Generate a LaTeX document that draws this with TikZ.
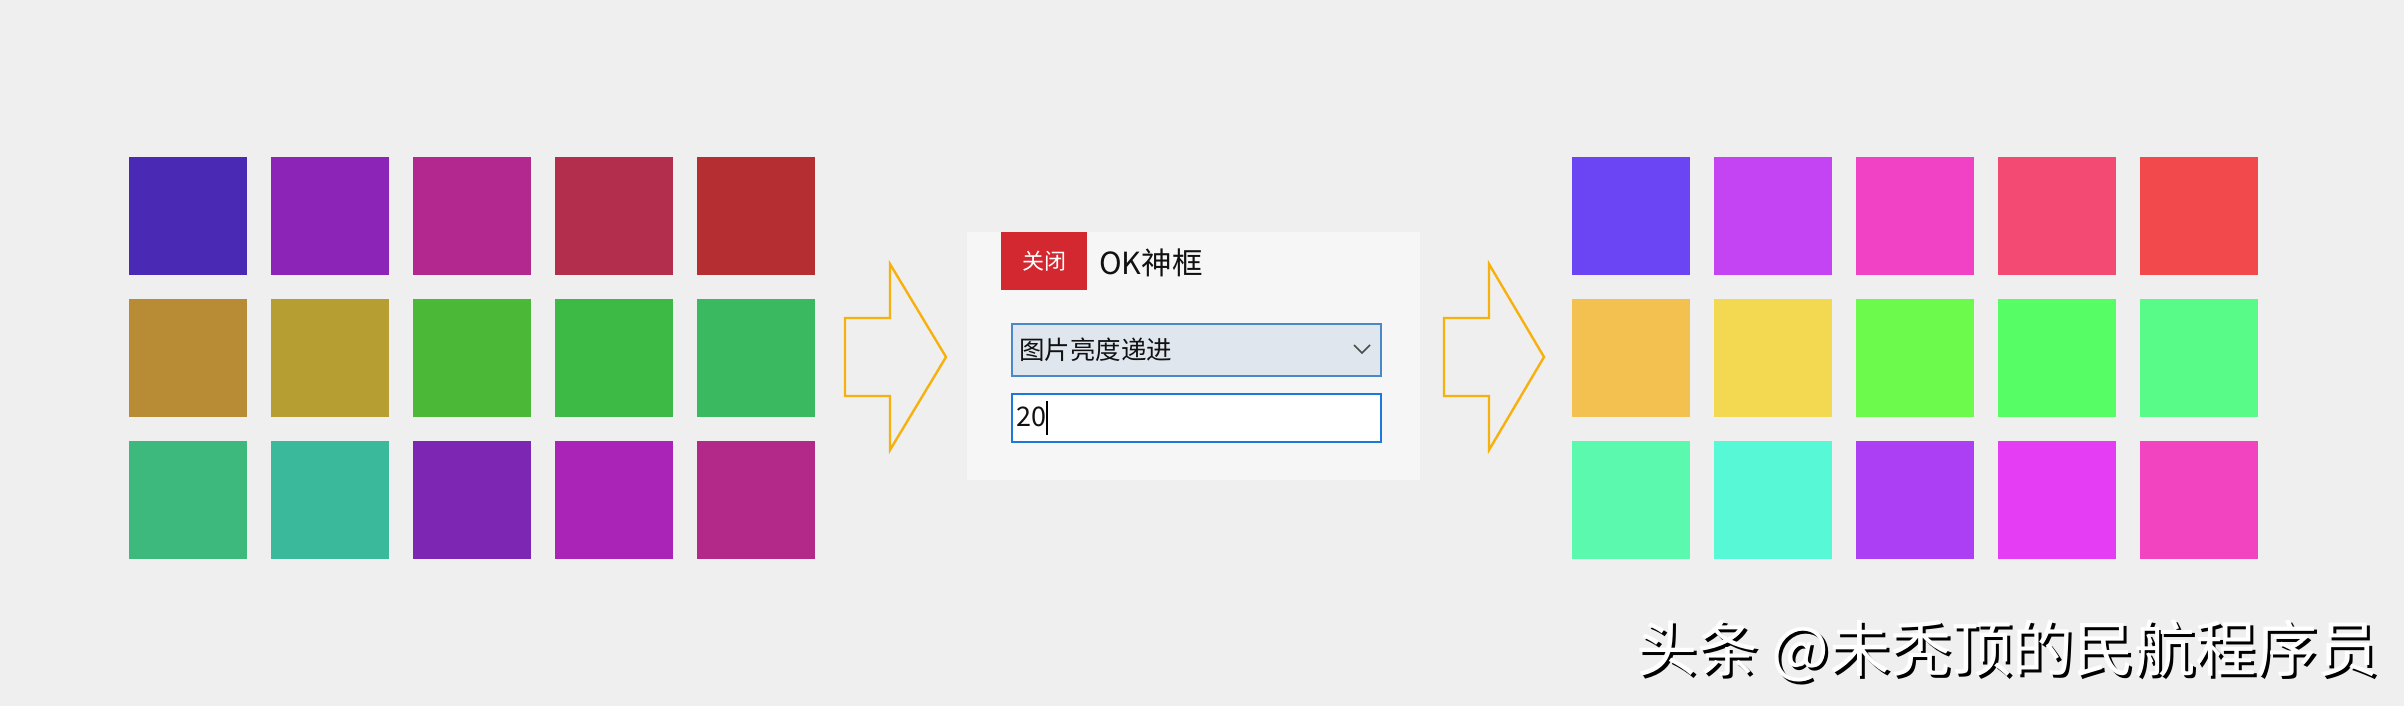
\documentclass[tikz,border=0pt]{standalone}
\usepackage{fontspec}
\setmainfont{Noto Sans CJK SC}
\definecolor{bg}{HTML}{EFEFEF}
\definecolor{panel}{HTML}{F6F6F6}
\definecolor{btnred}{HTML}{D3282F}
\definecolor{combofill}{HTML}{DFE6EE}
\definecolor{comboedge}{HTML}{4A88C8}
\definecolor{editedge}{HTML}{1E78D7}
\definecolor{arrowor}{HTML}{F7B10E}
\definecolor{txt}{HTML}{111111}
\tikzset{
  sq/.style={minimum width=118pt,minimum height=118pt,inner sep=0pt,draw=none},
  bigarrow/.style={draw=arrowor,line width=2.4pt,line join=miter},
  lbl/.style={inner sep=0pt,anchor=west,text=txt},
}
\begin{document}
\begin{tikzpicture}[x=1pt,y=-1pt]
\fill[bg] (0,0) rectangle (2404,706);
\useasboundingbox (0,0) rectangle (2404,706);
% left grid
\foreach \r/\cl in {0/{4A2AB5,8C24B8,B2288F,B32D4D,B42E32},1/{B78C34,B79E33,4BB937,3CBA45,3BB961},2/{3DB97D,3AB99B,7D26B4,AA24B8,B2298A}}{
  \foreach \c [count=\k from 0] in \cl {
    \definecolor{tmp}{HTML}{\c}
    \node[sq,fill=tmp] (l\r\k) at ({188+142*\k},{216+142*\r}) {};
  }
}
% right grid
\foreach \r/\cl in {0/{6B45F3,C443F3,F142C6,F24A73,F24A4C},1/{F3C150,F3D851,6CFB4D,57FD65,58FB88},2/{5AF9AE,57F8D6,AC3FF3,E53DF3,F243C1}}{
  \foreach \c [count=\k from 0] in \cl {
    \definecolor{tmp}{HTML}{\c}
    \node[sq,fill=tmp] (r\r\k) at ({1631+142*\k},{216+142*\r}) {};
  }
}
% arrows
\draw[bigarrow] (845,318) -- (890,318) -- (890,264) -- (946,357) -- (890,450) -- (890,396) -- (845,396) -- cycle;
\draw[bigarrow] (1444,318) -- (1489,318) -- (1489,264) -- (1544,357) -- (1489,450) -- (1489,396) -- (1444,396) -- cycle;
% dialog panel
\node[fill=panel,inner sep=0pt,minimum width=453pt,minimum height=248pt,anchor=north west] (panel) at (967,232) {};
\node[fill=btnred,inner sep=0pt,minimum width=86pt,minimum height=58pt,anchor=north west] (close) at (1001,232) {};
\node[inner sep=0pt,text=white,font=\fontsize{22}{22}\selectfont] (closetxt) at (close.center) {关闭};
\node[lbl,font=\fontsize{30.5}{30.5}\selectfont] (title) at (1099,263) {OK神框};
\node[draw=comboedge,line width=2pt,fill=combofill,inner sep=0pt,minimum width=369pt,minimum height=52pt,anchor=north west] (combo) at (1011,323) {};
\node[lbl,font=\fontsize{25.5}{25.5}\selectfont] (combotxt) at (1019,350) {图片亮度递进};
\coordinate (chv) at (1362,353);
\draw[line width=1.6pt,color=black!70] ([xshift=-8pt,yshift=8pt]chv) -- (chv) -- ([xshift=8pt,yshift=8pt]chv);
\node[draw=editedge,line width=2.4pt,fill=white,inner sep=0pt,minimum width=369pt,minimum height=48pt,anchor=north west] (edit) at (1011,393) {};
\node[lbl,font=\fontsize{27}{27}\selectfont] (edittxt) at (1016,417) {20};
\coordinate (curtop) at (1047,401);
\coordinate (curbot) at (1047,435);
\draw[line width=1.6pt,black] (curtop) -- (curbot);
% watermark
\node[lbl,text=black,font=\fontsize{61}{61}\selectfont] (wmshadow) at (1639,654) {头条 @未秃顶的民航程序员};
\node[lbl,text=white,font=\fontsize{61}{61}\selectfont] (wm) at (1636,651) {头条 @未秃顶的民航程序员};
\end{tikzpicture}
\end{document}
